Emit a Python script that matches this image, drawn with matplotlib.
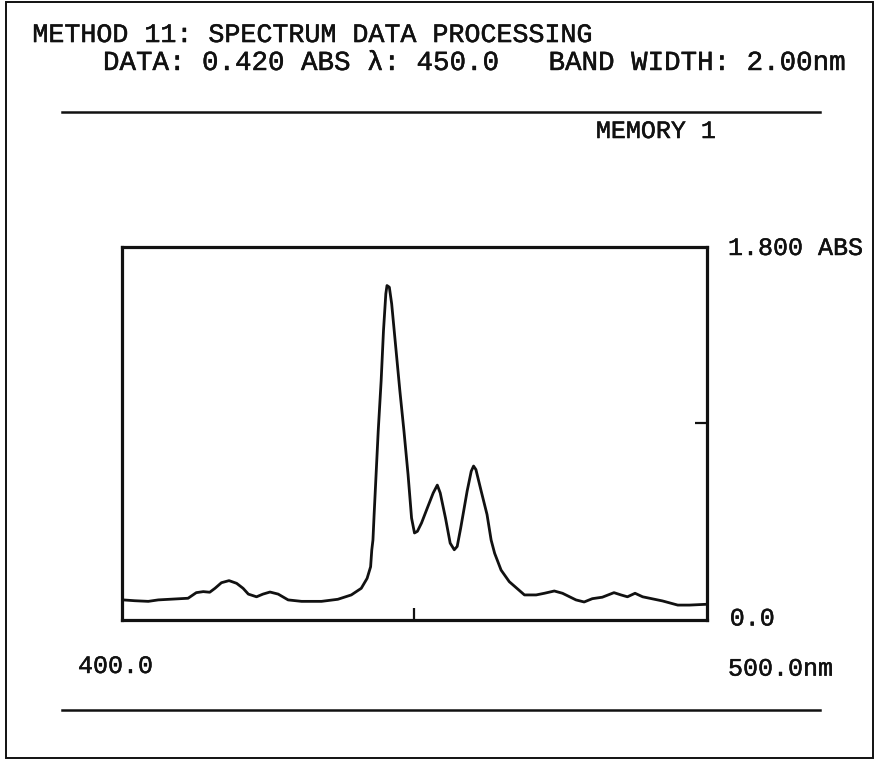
import matplotlib
matplotlib.use("Agg")
from matplotlib import pyplot as plt
from matplotlib import patheffects
from matplotlib.lines import Line2D
from matplotlib.patches import Rectangle

# Spectrum, memory 1 (wavelength in nm, absorbance in ABS)
wavelength_nm = [400.0, 400.2, 402.2, 404.5, 406.2, 411.3, 412.7, 413.9, 415.0, 415.9,
                 417.0, 418.3, 419.6, 420.7, 421.6, 423.0, 424.1, 425.3, 426.7, 428.4,
                 430.7, 434.1, 436.9, 439.2, 440.9, 441.9, 442.5, 442.7, 442.9, 443.1,
                 443.8, 444.3, 444.7, 445.1, 445.3, 445.7, 446.1, 446.8, 447.5, 448.2,
                 448.9, 449.5, 450.0, 450.5, 451.2, 452.2, 453.2, 453.9, 454.4, 455.3,
                 456.1, 456.8, 457.3, 457.9, 459.0, 459.7, 460.1, 460.5, 461.4, 462.4,
                 463.1, 463.7, 464.8, 466.2, 468.8, 470.8, 472.2, 473.9, 475.3, 477.6,
                 479.0, 480.4, 482.1, 484.1, 485.3, 486.4, 487.7, 489.0, 492.4, 495.0,
                 497.0, 500.0]
absorbance = [0.095, 0.097, 0.093, 0.090, 0.097, 0.105, 0.132, 0.137, 0.134, 0.153,
              0.180, 0.190, 0.177, 0.153, 0.125, 0.112, 0.125, 0.135, 0.125, 0.097,
              0.090, 0.090, 0.100, 0.121, 0.153, 0.201, 0.257, 0.338, 0.386, 0.509,
              0.912, 1.154, 1.396, 1.574, 1.614, 1.606, 1.526, 1.316, 1.106, 0.912,
              0.702, 0.492, 0.420, 0.428, 0.468, 0.541, 0.613, 0.651, 0.613, 0.492,
              0.371, 0.339, 0.355, 0.444, 0.622, 0.718, 0.743, 0.726, 0.622, 0.509,
              0.386, 0.322, 0.241, 0.185, 0.121, 0.121, 0.129, 0.140, 0.129, 0.097,
              0.087, 0.103, 0.110, 0.132, 0.121, 0.112, 0.129, 0.112, 0.092, 0.072,
              0.072, 0.076]

x_range = [400.0, 500.0]
abs_range = [0.0, 1.8]
cursor_nm = 450.0
cursor_abs = 0.420
mid_mark_abs = 0.95
band_width = 2.00
memory_no = 1

INK = "#111111"
# printer-style text: mono face, slightly thickened
TXT = dict(family=["Liberation Mono", "DejaVu Sans Mono"], color=INK, va="baseline",
           path_effects=[patheffects.withStroke(linewidth=0.35, foreground=INK)])

fig = plt.figure(figsize=(8.75, 7.6), dpi=100)

# outer frame and the two rules
fig.patches.append(Rectangle((0.0069, 0.0026), 0.9908, 0.9948, transform=fig.transFigure,
                             fill=False, edgecolor=INK, linewidth=1.4))
for yy in (0.8526, 0.0658):
    fig.lines.append(Line2D([0.0709, 0.9371], [yy, yy], transform=fig.transFigure,
                            color=INK, linewidth=1.8))

# header
fig.text(0.0370, 0.9447, "METHOD 11: SPECTRUM DATA PROCESSING", fontsize=19.2, **TXT)
fig.text(0.1177, 0.9079,
         f"DATA: {cursor_abs:.3f} ABS \u03bb: {cursor_nm:.1f}   BAND WIDTH: {band_width:.2f}nm",
         fontsize=19.8, **TXT)
fig.text(0.6810, 0.8184, f"MEMORY {memory_no}", fontsize=18, **TXT)

# spectrum box
ax = fig.add_axes([0.1394, 0.1842, 0.6686, 0.4908])
ax.plot(wavelength_nm, absorbance, color=INK, linewidth=2.0, solid_joinstyle="round")
ax.set_xlim(x_range)
ax.set_ylim(abs_range)
for s in ax.spines.values():
    s.set_linewidth(2.3)
    s.set_color(INK)

ax.set_xticks([cursor_nm])
ax.set_yticks([mid_mark_abs])
ax.tick_params(axis="x", direction="in", length=9, width=1.6, color=INK,
               labelbottom=False)
ax.tick_params(axis="y", direction="in", length=9, width=1.6, color=INK,
               left=False, right=True, labelleft=False, labelright=False)

# scale labels
fig.text(0.832, 0.6645, f"{abs_range[1]:.3f} ABS", fontsize=18, **TXT)
fig.text(0.834, 0.1770, f"{abs_range[0]:.1f}", fontsize=18, **TXT)
fig.text(0.0891, 0.1145, f"{x_range[0]:.1f}", fontsize=18, **TXT)
fig.text(0.832, 0.1110, f"{x_range[1]:.1f}nm", fontsize=18, **TXT)

fig.savefig("out.png", dpi=100, facecolor="white")
